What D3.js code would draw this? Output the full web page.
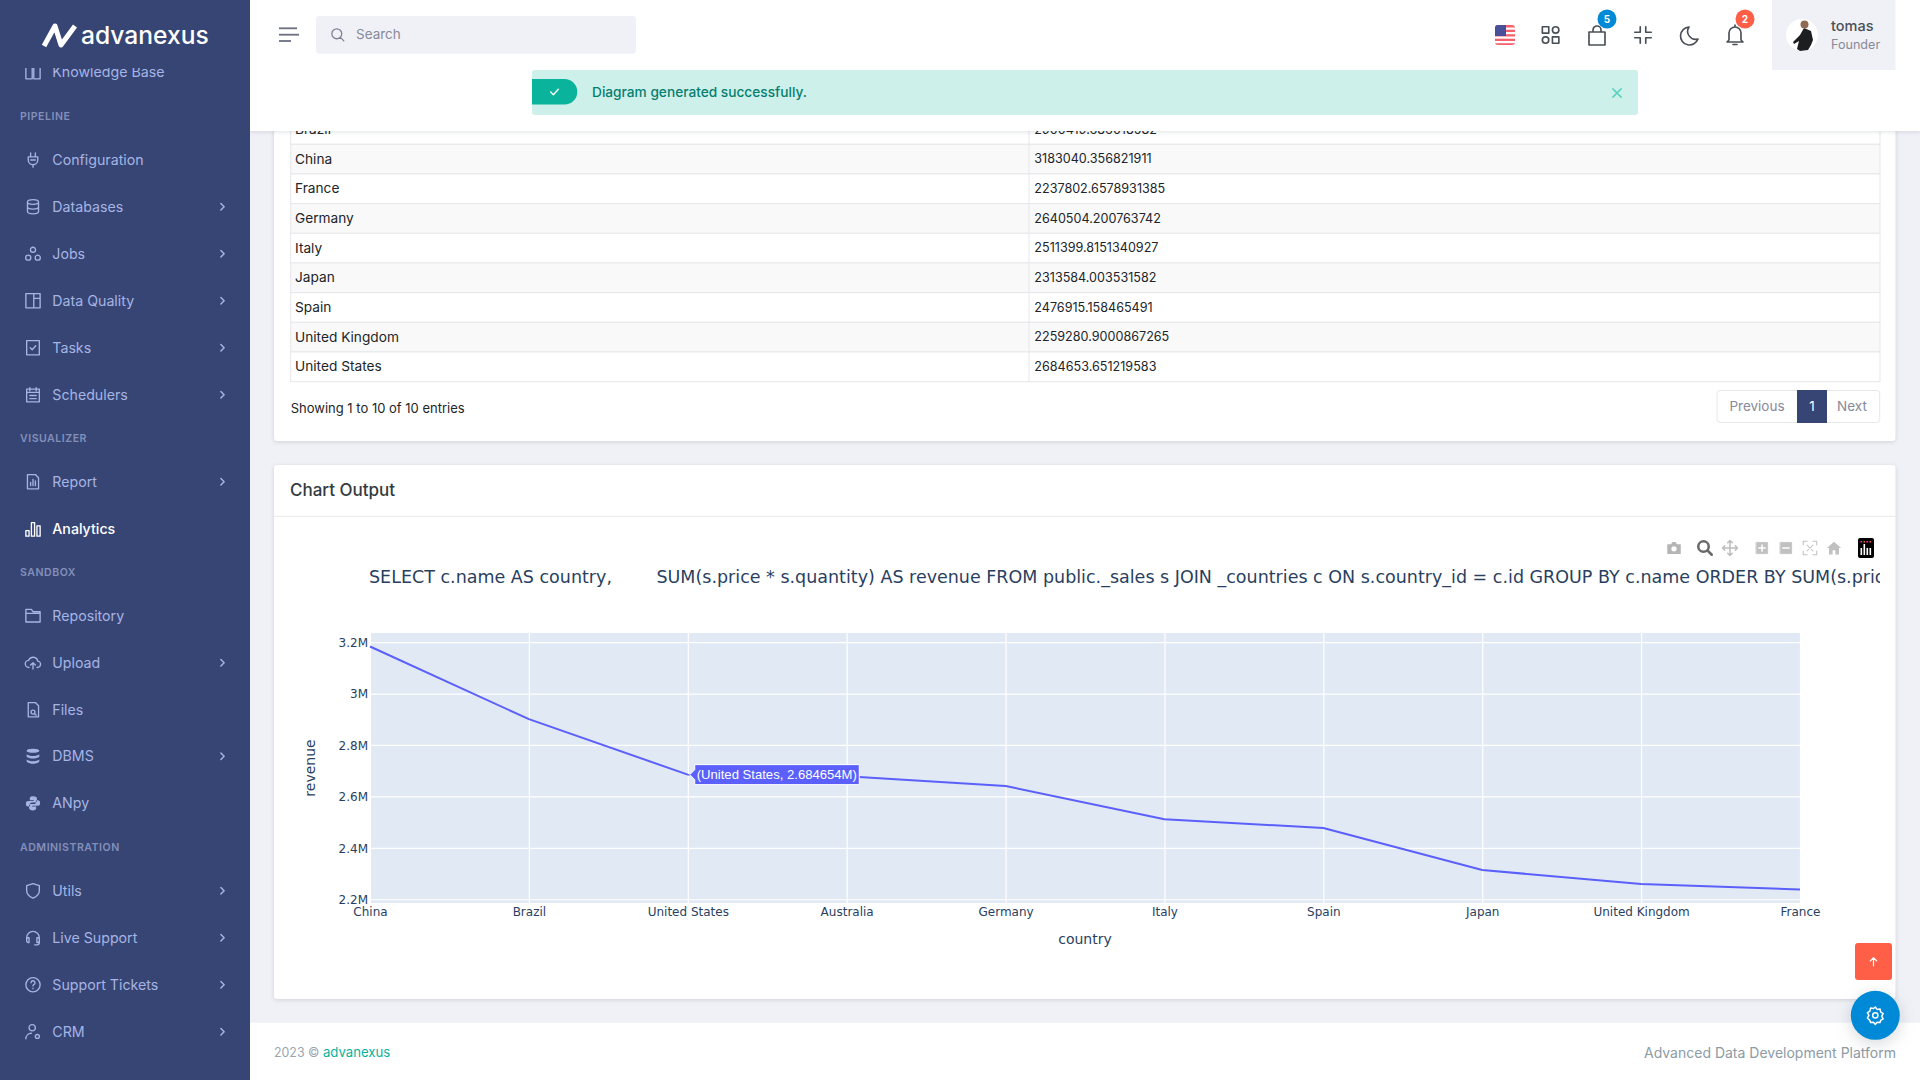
<!DOCTYPE html>
<html>

<head>
    <meta charset="utf-8">
    <style>
        html, body { margin: 0; padding: 0; background: #f0f1f7; overflow: hidden; }
        svg { display: block; }
        text { font-family: Inter, sans-serif; }
        .plotly text { font-family: 'DejaVu Sans', sans-serif; fill: #2a3f5f; }
        .tick line { stroke: #fff; stroke-width: 1.2; }
        .domain { display: none; }
        .tick text { font-size: 12px; }
    </style>
</head>

<body>
    <svg id="page" width="1920" height="1080"></svg>

    <script src="https://d3js.org/d3.v7.min.js"></script>
    <script>
        // chart data, sorted the way the chart has it
        const countries = ["China", "Brazil", "United States", "Australia", "Germany", "Italy", "Spain", "Japan", "United Kingdom", "France"];
        const revenue = [3183040.356821911, 2900419.686018582, 2684653.651219583, 2678000, 2640504.200763742, 2511399.8151340927, 2476915.158465491, 2313584.003531582, 2259280.9000867265, 2237802.6578931385];
        const yTicks = [2200000, 2400000, 2600000, 2800000, 3000000, 3200000];
        const hovered = "United States";
        const chartTitle = "SELECT c.name AS country,        SUM(s.price * s.quantity) AS revenue FROM public._sales s JOIN _countries c ON s.country_id = c.id GROUP BY c.name ORDER BY SUM(s.price * s.quantity) DESC";

        // table rows, Brazil is half under the header
        const tableNames = ["Brazil", "China", "France", "Germany", "Italy", "Japan", "Spain", "United Kingdom", "United States"];
        const tableValues = ["2900419.686018582", "3183040.356821911", "2237802.6578931385", "2640504.200763742", "2511399.8151340927", "2313584.003531582", "2476915.158465491", "2259280.9000867265", "2684653.651219583"];

        // sidebar: [label, center y, icon, has chevron]
        const navItems = [
            ["Knowledge Base", 72.5, "book", false],
            ["Configuration", 160, "plug", false],
            ["Databases", 206.7, "db", true],
            ["Jobs", 253.7, "jobs", true],
            ["Data Quality", 300.7, "layout", true],
            ["Tasks", 347.7, "check", true],
            ["Schedulers", 394.7, "cal", true],
            ["Report", 481.7, "report", true],
            ["Analytics", 529, "bars", false],
            ["Repository", 615.7, "folder", false],
            ["Upload", 662.7, "cloud", true],
            ["Files", 709.7, "file", false],
            ["DBMS", 756.3, "dbms", true],
            ["ANpy", 803.3, "python", false],
            ["Utils", 890.7, "shield", true],
            ["Live Support", 937.7, "headset", true],
            ["Support Tickets", 984.7, "help", true],
            ["CRM", 1031.7, "usergear", true]
        ];
        const navSections = [["PIPELINE", 116], ["VISUALIZER", 438], ["SANDBOX", 572], ["ADMINISTRATION", 847]];

        // icons on a 24 box
        const icons = {
            book: "M3 4h8v16H3zM13 4h8v16h-8z",
            plug: "M9 3v5M15 3v5M6 8h12v4a6 6 0 0 1-12 0zM12 18v3M9 12h6",
            db: "M5 6c0-4 14-4 14 0v12c0 4-14 4-14 0zM5 6c0 4 14 4 14 0M5 12c0 4 14 4 14 0",
            jobs: "M8.8 7a3.2 3.2 0 1 0 6.4 0a3.2 3.2 0 1 0-6.4 0M2.8 17a3.2 3.2 0 1 0 6.4 0a3.2 3.2 0 1 0-6.4 0M14.8 17a3.2 3.2 0 1 0 6.4 0a3.2 3.2 0 1 0-6.4 0",
            layout: "M3 3h18v18H3zM13 3v18M13 9h8",
            check: "M4 3h16v18H4zM8.5 12l2.5 2.5 4.5-5",
            cal: "M4 5h16v16H4zM8 3v4M16 3v4M4 9h16M8 13h2M11 13h2M14 13h2M8 17h2M11 17h2M14 17h2",
            report: "M5 3h10l4 4v14H5zM9 17v-4M12 17V9M15 17v-6",
            bars: "M3 21h4v-7H3zM10 21h4V4h-4zM17 21h4V8h-4z",
            folder: "M3 4h7l2 3h9v13H3zM3 9h18",
            cloud: "M7 18a4.5 4.5 0 0 1-.5-9 6 6 0 0 1 11.5 1 4 4 0 0 1-1 8M12 20v-8M9 15l3-3 3 3",
            file: "M6 3h9l4 4v14H6zM9.5 15a2.5 2.5 0 1 0 5 0a2.5 2.5 0 1 0-5 0M14 17l2 2",
            dbms: "M4 5c0-3.500 16-3.500 16 0s-16 3.500-16 0zM4 9.500c3 3 13 3 16 0v3c-3 3-13 3-16 0zM4 16c3 3 13 3 16 0v2.500c-3 4-13 4-16 0z",
            python: "M12 3c-4 0-4 2-4 3v2h5v1H6c-2 0-3 1-3 3.500S4 16 6 16h2v-2c0-2 1-3 3-3h4c1 0 2-1 2-2V6c0-2-2-3-5-3zM12 21c4 0 4-2 4-3v-2h-5v-1h7c2 0 3-1 3-3.500S20 8 18 8h-2v2c0 2-1 3-3 3H9c-1 0-2 1-2 2v3c0 2 2 3 5 3z",
            shield: "M12 3l8 2.500V12c0 4.500-3.500 7.500-8 9.500-4.500-2-8-5-8-9.500V5.500z",
            headset: "M4 14v-2a8 8 0 0 1 16 0v2M4 14a2 2 0 0 1 2-2h1v6H6a2 2 0 0 1-2-2zM20 14a2 2 0 0 0-2-2h-1v6h1a2 2 0 0 0 2-2zM20 16v2a3 3 0 0 1-3 3h-3",
            help: "M3 12a9 9 0 1 0 18 0a9 9 0 1 0-18 0M9.500 9.500a2.500 2.500 0 1 1 3.500 2.300c-.7.4-1 .9-1 1.700M12 16.500v.5",
            usergear: "M7 7a4 4 0 1 0 8 0 4 4 0 1 0-8 0M3 21c0-4 3-7 7-7M15 18a2.500 2.500 0 1 0 5 0a2.500 2.500 0 1 0-5 0",
            chevron: "M9 6l6 6-6 6",
            search: "M4 11a7 7 0 1 0 14 0a7 7 0 1 0-14 0M16 16l5 5",
            grid: "M3 3h7v7H3zM14 14h7v7h-7zM14 6.500a3.500 3.500 0 1 0 7 0a3.500 3.500 0 1 0-7 0M3 17.500a3.500 3.500 0 1 0 7 0a3.500 3.500 0 1 0-7 0",
            bag: "M4 8h16v13H4zM8 8V6a4 4 0 0 1 8 0v2",
            compress: "M9 3v6H3M15 3v6h6M9 21v-6H3M15 21v-6h6",
            moon: "M12 3a9 9 0 1 0 9 12 8 8 0 0 1-9-12z",
            bell: "M6 17V10a6 6 0 0 1 12 0v7l2 2H4zM10 21.500h4M12 2v2",
            close: "M5 5l14 14M19 5L5 19",
            tick: "M5 12l5 5 9-10",
            arrow: "M12 20V5M6 11l6-6 6 6",
            gear: "M12 2.500l2 2.800 3.400-.6.7 3.400 2.900 1.900-1.700 3 1.700 3-2.900 1.900-.7 2.400-3.400-.3-2 2.600-2-2.600-3.400.3-.7-2.400L3 15l1.700-3L3 9l2.900-1.900.7-3.400 3.400.6zM9 12a3 3 0 1 0 6 0a3 3 0 1 0-6 0",
            camera: "M3 7h5l2-3h4l2 3h5v13H3zM8.500 13a3.500 3.500 0 1 0 7 0a3.500 3.500 0 1 0-7 0",
            zoom: "M3 10a7 7 0 1 0 14 0a7 7 0 1 0-14 0M15 15l6 6",
            pan: "M12 2v20M2 12h20M9 5l3-3 3 3M9 19l3 3 3-3M5 9l-3 3 3 3M19 9l3 3-3 3",
            box: "M3 3h18v18H3z",
            plusSign: "M12 7v10M7 12h10",
            minusSign: "M7 12h10",
            autoscale: "M3 8V3h5M16 3h5v5M21 16v5h-5M8 21H3v-5M8 8l8 8M16 8l-8 8",
            home: "M12 3L2 12h3v9h5v-6h4v6h5v-9h3z"
        };

        let svg = d3.select("#page");

        function drawText(parent, str, x, y, size, color, opts) {
            opts = opts || {};
            return parent.append("text")
                .attr("x", x)
                .attr("y", y)
                .attr("dy", ".35em")
                .attr("text-anchor", opts.anchor || "start")
                .attr("font-size", size)
                .attr("font-weight", opts.weight || 400)
                .attr("letter-spacing", opts.spacing || 0)
                .attr("fill", color)
                .text(str);
        }

        function drawIcon(parent, name, cx, cy, size, color, opts) {
            opts = opts || {};
            let k = size / 24;
            return parent.append("path")
                .attr("transform", `translate(${cx - size / 2},${cy - size / 2}) scale(${k})`)
                .attr("d", icons[name])
                .attr("fill", opts.fill || "none")
                .attr("fill-rule", "evenodd")
                .attr("stroke", opts.fill && !opts.sw ? "none" : color)
                .attr("stroke-width", (opts.sw || 1.5) / k * 0.75)
                .attr("stroke-linejoin", "round")
                .attr("stroke-linecap", "round");
        }

        function drawBox(parent, x, y, w, h, fill, r) {
            return parent.append("rect").attr("x", x).attr("y", y).attr("width", w).attr("height", h).attr("fill", fill).attr("rx", r || 0);
        }

        const cardShadow = "drop-shadow(0 1px 2px rgba(56,65,74,.18))";

        // ---- table card, the header sits on top of it later ----
        let content = svg.append("g");
        drawBox(content, 274, 60, 1621.5, 381, "#fff", 3).style("filter", cardShadow);

        const table = { left: 290.7, right: 1880, split: 1029, top: 114.6, row: 29.67 };
        let rows = content.append("g").selectAll("g").data(tableNames).join("g")
            .attr("transform", (d, i) => `translate(0,${table.top + i * table.row})`);
        rows.append("rect")
            .attr("x", table.left).attr("width", table.right - table.left).attr("height", table.row)
            .attr("fill", (d, i) => i % 2 ? "#f9f9fa" : "#fff")
            .attr("stroke", "#e6e7ea");
        rows.append("line")
            .attr("x1", table.split).attr("x2", table.split).attr("y2", table.row)
            .attr("stroke", "#e6e7ea");
        rows.append("text")
            .attr("x", 295).attr("y", table.row / 2 - 0.3).attr("dy", ".35em")
            .attr("font-size", 13.7).attr("fill", "#212529")
            .text(d => d);
        rows.append("text")
            .attr("x", 1034.3).attr("y", table.row / 2 - 0.3).attr("dy", ".35em")
            .attr("font-size", 12.6).attr("fill", "#212529")
            .text((d, i) => tableValues[i]);

        drawText(content, "Showing 1 to 10 of 10 entries", 290.7, 408.7, 13, "#212529");

        // pagination
        drawBox(content, 1717, 390.5, 162.7, 32, "#fff", 3).attr("stroke", "#e6e7ea");
        drawBox(content, 1797, 390, 30, 33, "#364574");
        drawText(content, "Previous", 1757, 406.7, 13.5, "#878a99", { anchor: "middle" });
        drawText(content, "1", 1812, 406.7, 13.5, "#fff", { anchor: "middle" });
        drawText(content, "Next", 1852, 406.7, 13.5, "#878a99", { anchor: "middle" });

        // ---- chart card ----
        drawBox(content, 274, 465, 1621.5, 534, "#fff", 3).style("filter", cardShadow);
        content.append("line").attr("x1", 274).attr("x2", 1895.5).attr("y1", 516.3).attr("y2", 516.3).attr("stroke", "#e9ebec");
        drawText(content, "Chart Output", 290, 490.2, 17, "#343a40", { weight: 500 });

        // ---- the plotly chart ----
        const plot = { left: 370, right: 1800, top: 633, bottom: 903 };
        let chart = svg.append("g").attr("class", "plotly");

        let x = d3.scalePoint()
            .domain(countries)
            .range([plot.left, plot.right]);

        // plotly pads the autorange by about 5.55% of the span
        let extent = d3.extent(revenue);
        let pad = (extent[1] - extent[0]) * 0.0555;
        let y = d3.scaleLinear()
            .domain([extent[0] - pad, extent[1] + pad])
            .range([plot.bottom, plot.top]);

        drawBox(chart, plot.left, plot.top, plot.right - plot.left, plot.bottom - plot.top, "#e1e9f4");

        let yAxisSettings = d3.axisLeft(y)
            .tickValues(yTicks)
            .tickSize(-(plot.right - plot.left))
            .tickPadding(2)
            .tickFormat(d3.format("~s"));

        let xAxisSettings = d3.axisBottom(x)
            .tickSize(-(plot.bottom - plot.top))
            .tickPadding(4.5);

        chart.append("g")
            .attr("class", "y axis")
            .attr("transform", `translate(${plot.left},0)`)
            .call(yAxisSettings)
            .selectAll("text").attr("dy", ".36em");

        chart.append("g")
            .attr("class", "x axis")
            .attr("transform", `translate(0,${plot.bottom})`)
            .call(xAxisSettings);

        let line = d3.line()
            .x((d, i) => x(countries[i]))
            .y(d => y(d));

        chart.append("path")
            .datum(revenue)
            .attr("d", line)
            .attr("fill", "none")
            .attr("stroke", "#5b5ffb")
            .attr("stroke-width", 2)
            .attr("stroke-linejoin", "round");

        // axis titles
        chart.append("text")
            .attr("x", (plot.left + plot.right) / 2)
            .attr("y", 938.6).attr("dy", ".35em")
            .attr("text-anchor", "middle").attr("font-size", 14)
            .text("country");
        chart.append("text")
            .attr("transform", `translate(310,${(plot.top + plot.bottom) / 2}) rotate(-90)`)
            .attr("dy", ".35em")
            .attr("text-anchor", "middle").attr("font-size", 14)
            .text("revenue");

        // title, cut off at the right edge like in the page
        svg.append("clipPath").attr("id", "titleClip")
            .append("rect").attr("x", 274).attr("y", 555).attr("width", 1606).attr("height", 45);
        chart.append("text")
            .attr("clip-path", "url(#titleClip)")
            .attr("x", 369).attr("y", 577).attr("dy", ".35em")
            .attr("font-size", 17.5)
            .style("white-space", "pre")
            .text(chartTitle);

        // hover label on the United States point
        let hoverValue = revenue[countries.indexOf(hovered)];
        let hx = x(hovered) + 2;
        let hy = y(hoverValue);
        let hoverLabel = chart.append("g").attr("transform", `translate(${hx},${hy})`);
        hoverLabel.append("path")
            .attr("d", "M0,0L5,-5V-10H169.500V10H5V5Z")
            .attr("fill", "#5b5ffb")
            .attr("stroke", "#fff")
            .attr("stroke-width", 1);
        hoverLabel.append("text")
            .attr("x", 87).attr("dy", ".37em")
            .attr("text-anchor", "middle")
            .attr("font-size", 13.1)
            .style("font-family", "'Liberation Sans', Arial, sans-serif")
            .style("fill", "#fff")
            .text(`(${hovered}, ${d3.format(".7s")(hoverValue)})`);

        // modebar
        let modebar = svg.append("g");
        const toolY = 548;
        drawIcon(modebar, "camera", 1674, toolY, 18, "#b5b5b5", { fill: "#b5b5b5" });
        drawIcon(modebar, "zoom", 1705, toolY, 18, "#6a6a6a", { sw: 3.4 });
        drawIcon(modebar, "pan", 1730, toolY, 18, "#bdbdbd", { sw: 2 });
        drawIcon(modebar, "box", 1762, toolY, 15, "#c0c0c0", { fill: "#c0c0c0", sw: 1 });
        drawIcon(modebar, "plusSign", 1762, toolY, 15, "#fff", { sw: 2 });
        drawIcon(modebar, "box", 1786, toolY, 15, "#c0c0c0", { fill: "#c0c0c0", sw: 1 });
        drawIcon(modebar, "minusSign", 1786, toolY, 15, "#fff", { sw: 2 });
        drawIcon(modebar, "autoscale", 1810, toolY, 18, "#c0c0c0", { sw: 1.4 });
        drawIcon(modebar, "home", 1834, toolY, 17, "#c0c0c0", { fill: "#c0c0c0" });
        drawBox(modebar, 1858, 538, 16, 20, "#000", 2);
        modebar.append("g").selectAll("rect").data([0, 1, 2, 3]).join("rect")
            .attr("x", d => 1860.5 + d * 3).attr("y", d => d === 1 ? 544 : 548).attr("width", 1.6).attr("height", d => d === 1 ? 11 : 7).attr("fill", "#fff");
        modebar.append("g").selectAll("rect").data([0, 1, 2, 3]).join("rect")
            .attr("x", d => 1860.5 + d * 3).attr("y", 541).attr("width", 1.6).attr("height", 1.6).attr("fill", d => d % 2 ? "#ef553b" : "#ef2b8c");

        // ---- footer ----
        drawBox(svg, 250, 1022.7, 1670, 58, "#fff");
        let copy = drawText(svg, "2023 © ", 274, 1052.7, 12.4, "#98a6ad");
        copy.append("tspan").attr("fill", "#0ab39c").attr("font-size", 13.2).text("advanexus");
        drawText(svg, "Advanced Data Development Platform", 1896, 1052.7, 14, "#8d9ba5", { anchor: "end" });

        // floating buttons
        drawBox(svg, 1855, 943, 37, 37, "#fe5f46", 3);
        drawIcon(svg, "arrow", 1873.5, 961.5, 13, "#fff", { sw: 1.6 });
        svg.append("circle").attr("cx", 1875.3).attr("cy", 1015.3).attr("r", 24.5).attr("fill", "#0089d6")
            .style("filter", "drop-shadow(0 4px 8px rgba(56,65,74,.2))");
        drawIcon(svg, "gear", 1875.3, 1015.3, 21, "#fff", { sw: 2 });

        // ---- header ----
        let header = svg.append("g");
        drawBox(header, 250, 0, 1670, 131, "#fff").style("filter", "drop-shadow(0 1px 2px rgba(56,65,74,.15))");

        // hamburger
        [[279, 297, 28.3], [279, 299, 34.7], [279, 291, 41]].forEach(function (d) {
            header.append("line").attr("x1", d[0]).attr("x2", d[1]).attr("y1", d[2]).attr("y2", d[2])
                .attr("stroke", "#6b6f80").attr("stroke-width", 1.8);
        });

        drawBox(header, 316, 16, 320, 37.7, "#f0f1f7", 3);
        drawIcon(header, "search", 337.5, 34.5, 17, "#7d8292", { sw: 1.7 });
        drawText(header, "Search", 356, 34.5, 13.5, "#878a99");

        // alert
        drawBox(header, 532, 70, 1106, 45, "#cef0eb", 3);
        header.append("path").attr("d", "M532,79H564.500a12.800,12.800 0 0 1 0,25.600H532Z").attr("fill", "#0ab39c");
        drawIcon(header, "tick", 554.500, 92, 13, "#fff", { sw: 1.8 });
        drawText(header, "Diagram generated successfully.", 592, 92.5, 13.7, "#067f6f", { weight: 500 });
        drawIcon(header, "close", 1617, 93, 14, "#5fd3c2", { sw: 2.2 });

        // flag
        let flag = header.append("g");
        flag.append("clipPath").attr("id", "flagClip").append("rect")
            .attr("x", 1495).attr("y", 25).attr("width", 20).attr("height", 20).attr("rx", 3);
        flag = flag.append("g").attr("clip-path", "url(#flagClip)");
        drawBox(flag, 1495, 25, 20, 20, "#f8606c");
        d3.range(4).forEach(i => drawBox(flag, 1495, 27.500 + i * 4.500, 20, 2.200, "#fff"));
        drawBox(flag, 1495, 25, 11, 11, "#4a4f9a");

        // top bar icons
        const topColor = "#495057";
        drawIcon(header, "grid", 1550.6, 35, 22, topColor, { sw: 2.2 });
        drawIcon(header, "bag", 1597, 36, 24, topColor, { sw: 2.2 });
        drawIcon(header, "compress", 1643, 35, 22, topColor, { sw: 2.2 });
        drawIcon(header, "moon", 1689, 36, 24, topColor, { sw: 2.2 });
        drawIcon(header, "bell", 1735, 35, 24, topColor, { sw: 2.2 });

        [[1607, "#0089d6", "5"], [1745, "#fe5f46", "2"]].forEach(function (b) {
            header.append("circle").attr("cx", b[0]).attr("cy", 19).attr("r", 9.500).attr("fill", b[1]);
            drawText(header, b[2], b[0], 19, 10, "#fff", { anchor: "middle", weight: 700 });
        });

        // user box
        drawBox(header, 1772, 0, 123.500, 70, "#f0f1f7");
        header.append("circle").attr("cx", 1802).attr("cy", 35).attr("r", 16).attr("fill", "#fff");
        header.append("path").attr("d", "M1804 28l7 3 2 9-2 5-3 5-8 1-3-2 2-8-5 3-1-2 7-7z").attr("fill", "#1d1e20");
        header.append("circle").attr("cx", 1804.500).attr("cy", 24.5).attr("r", 4).attr("fill", "#8f6a52");
        drawText(header, "tomas", 1831, 26.2, 14.5, "#495057", { weight: 500 });
        drawText(header, "Founder", 1831, 44.7, 12.6, "#878a99");

        // ---- sidebar ----
        let side = svg.append("g");
        drawBox(side, 0, 0, 250, 1080, "#364574");

        navSections.forEach(function (s) {
            drawText(side, s[0], 20, s[1], 10.6, "#838fb9", { weight: 600, spacing: 0.5 });
        });

        navItems.forEach(function (item) {
            let active = item[0] === "Analytics";
            let color = active ? "#fff" : "#a6b4e4";
            drawIcon(side, item[2], 33, item[1], 19, color, item[2] === "dbms" || item[2] === "python" ? { fill: color } : { sw: 1.8 });
            drawText(side, item[0], 52.3, item[1], 14.2, color, { weight: active ? 500 : 400 });
            if (item[3]) drawIcon(side, "chevron", 222.5, item[1], 13, color, { sw: 2 });
        });

        // logo covers the scrolled items
        drawBox(side, 0, 0, 250, 68, "#364574");
        side.append("path")
            .attr("d", "M44 46L55 26 61 45 75 26")
            .attr("fill", "none").attr("stroke", "#fff").attr("stroke-width", 5).attr("stroke-linejoin", "round");
        drawText(side, "advanexus", 81, 35.5, 24.6, "#fff", { weight: 500 });
    </script>
</body>

</html>
